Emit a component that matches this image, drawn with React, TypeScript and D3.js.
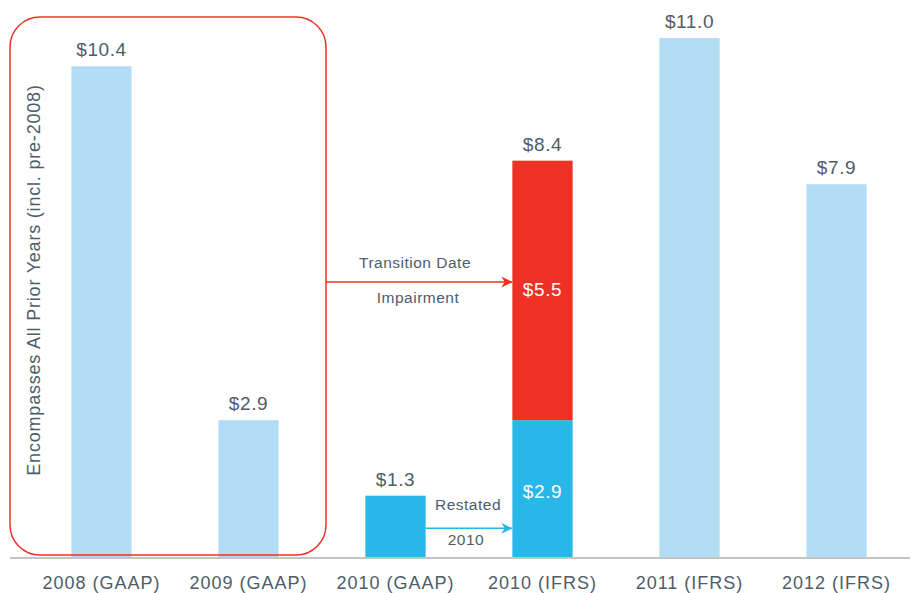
import * as d3 from "d3"

const CATEGORIES = [
  "2008 (GAAP)",
  "2009 (GAAP)",
  "2010 (GAAP)",
  "2010 (IFRS)",
  "2011 (IFRS)",
  "2012 (IFRS)",
]
// base part of each bar
const BASE_VALUES = [10.4, 2.9, 1.3, 2.9, 11.0, 7.9]
// impairment stacked on top (only 2010 IFRS)
const IMPAIRMENT_VALUES = [0, 0, 0, 5.5, 0, 0]
const TOTAL_LABELS = ["$10.4", "$2.9", "$1.3", "$8.4", "$11.0", "$7.9"]
const BASE_INNER_LABELS = ["", "", "", "$2.9", "", ""]
const IMPAIRMENT_LABELS = ["", "", "", "$5.5", "", ""]
const BASE_COLORS = ["#b3ddf4", "#b3ddf4", "#29b6e9", "#29b6e9", "#b3ddf4", "#b3ddf4"]

const WIDTH = 912
const HEIGHT = 593
const BASELINE = 557
const TEXT = "#4d5d69"
const RED = "#ee3124"
const BLUE = "#29b6e9"
const FONT = "'Liberation Sans', Arial, sans-serif"

export default function App() {
  const x = d3
    .scaleBand<string>()
    .domain(CATEGORIES)
    .range([28, 910])
    .paddingInner(0.59)
    .paddingOuter(0.295)

  const y = d3.scaleLinear().domain([0, 11]).range([BASELINE, 38])

  const bw = x.bandwidth()
  const cx = (i: number) => (x(CATEGORIES[i]) ?? 0) + bw / 2

  const gaapRight = (x(CATEGORIES[2]) ?? 0) + bw
  const ifrsLeft = x(CATEGORIES[3]) ?? 0
  const redArrowY = 282
  const blueArrowY = y(BASE_VALUES[2] / 2) + 2

  return (
    <svg
      width={WIDTH}
      height={HEIGHT}
      style={{ position: "absolute", left: 0, top: 0, fontFamily: FONT }}
    >
      <defs>
        <marker id="redHead" viewBox="0 0 10 10" refX="10" refY="5" markerWidth="11" markerHeight="11" orient="auto" markerUnits="userSpaceOnUse">
          <path d="M0,0 L10,5 L0,10 L3,5 z" fill={RED} />
        </marker>
        <marker id="blueHead" viewBox="0 0 10 10" refX="10" refY="5" markerWidth="11" markerHeight="11" orient="auto" markerUnits="userSpaceOnUse">
          <path d="M0,0 L10,5 L0,10 L3,5 z" fill={BLUE} />
        </marker>
      </defs>

      {CATEGORIES.map((c, i) => {
        const x0 = x(c) ?? 0
        const baseTop = y(BASE_VALUES[i])
        const total = BASE_VALUES[i] + IMPAIRMENT_VALUES[i]
        const totalTop = y(total)
        return (
          <g key={c}>
            <rect x={x0} y={baseTop} width={bw} height={BASELINE - baseTop} fill={BASE_COLORS[i]} />
            {IMPAIRMENT_VALUES[i] > 0 ? (
              <rect x={x0} y={totalTop} width={bw} height={baseTop - totalTop} fill={RED} />
            ) : null}
            <text x={cx(i)} y={totalTop - 10} textAnchor="middle" fontSize={19} letterSpacing={0.6} fill={TEXT}>
              {TOTAL_LABELS[i]}
            </text>
            {BASE_INNER_LABELS[i] ? (
              <text x={cx(i)} y={baseTop + 78} textAnchor="middle" fontSize={19} letterSpacing={0.6} fill="white">
                {BASE_INNER_LABELS[i]}
              </text>
            ) : null}
            {IMPAIRMENT_LABELS[i] ? (
              <text x={cx(i)} y={redArrowY + 14} textAnchor="middle" fontSize={19} letterSpacing={0.6} fill="white">
                {IMPAIRMENT_LABELS[i]}
              </text>
            ) : null}
            <text x={cx(i)} y={589} textAnchor="middle" fontSize={18} letterSpacing={1} fill={TEXT}>
              {c}
            </text>
          </g>
        )
      })}

      <line x1={10} x2={910} y1={BASELINE + 1} y2={BASELINE + 1} stroke="#b0b0b0" strokeWidth={1.5} />

      <rect x={10} y={17} width={316} height={538} rx={30} ry={30} fill="none" stroke={RED} strokeWidth={1.5} />
      <text
        transform={`translate(40, 280) rotate(-90)`}
        textAnchor="middle"
        fontSize={18}
        letterSpacing={0.8}
        fill={TEXT}
      >
        Encompasses All Prior Years (incl. pre-2008)
      </text>

      <line x1={326} x2={ifrsLeft} y1={redArrowY} y2={redArrowY} stroke={RED} strokeWidth={1.5} markerEnd="url(#redHead)" />
      <text x={415} y={268} textAnchor="middle" fontSize={15.5} letterSpacing={0.5} fill={TEXT}>
        Transition Date
      </text>
      <text x={418} y={303} textAnchor="middle" fontSize={15.5} letterSpacing={0.5} fill={TEXT}>
        Impairment
      </text>

      <line x1={gaapRight} x2={ifrsLeft} y1={blueArrowY} y2={blueArrowY} stroke={BLUE} strokeWidth={1.5} markerEnd="url(#blueHead)" />
      <text x={468} y={510} textAnchor="middle" fontSize={15.5} letterSpacing={0.5} fill={TEXT}>
        Restated
      </text>
      <text x={466} y={545} textAnchor="middle" fontSize={15.5} letterSpacing={0.5} fill={TEXT}>
        2010
      </text>
    </svg>
  )
}
